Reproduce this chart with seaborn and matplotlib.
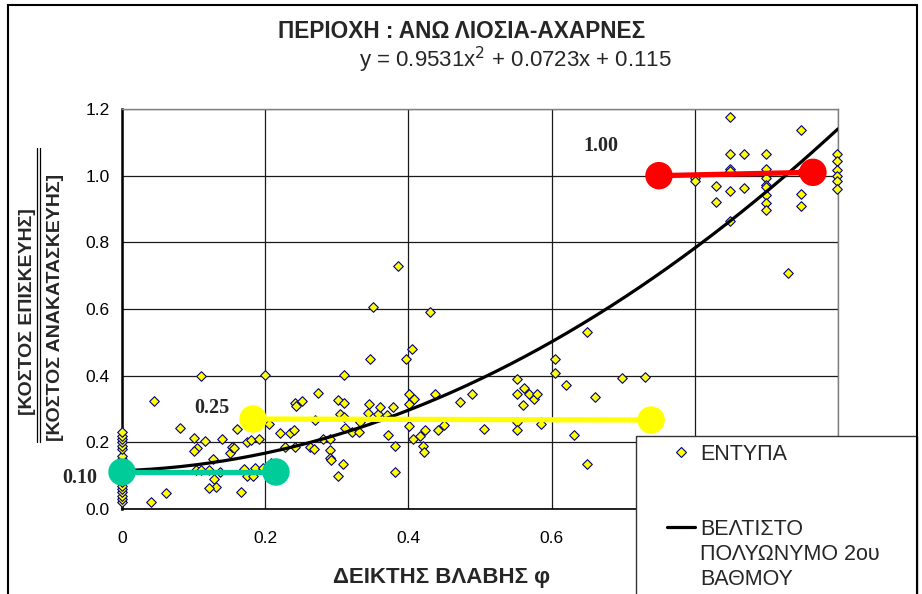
import numpy as np
import matplotlib
matplotlib.use('Agg')
import matplotlib.pyplot as plt
import seaborn as sns
from matplotlib.patches import Rectangle
from matplotlib.lines import Line2D

# survey points ("ΕΝΤΥΠΑ"), damage index vs cost ratio
zero_y = [0.02, 0.03, 0.04, 0.05, 0.06, 0.07, 0.08, 0.09, 0.10, 0.11, 0.12,
          0.13, 0.14, 0.15, 0.16, 0.18, 0.19, 0.20, 0.21, 0.22, 0.23]

pts_x = [0.041, 0.045, 0.061, 0.081, 0.101, 0.116, 0.105, 0.100, 0.111, 0.127,
         0.103, 0.111, 0.121, 0.128, 0.131, 0.121, 0.137, 0.139,
         0.151, 0.153, 0.157, 0.160, 0.166, 0.170, 0.175, 0.175, 0.180, 0.183,
         0.186, 0.191, 0.197, 0.200, 0.205, 0.208, 0.220, 0.227, 0.234, 0.240,
         0.241, 0.241, 0.243, 0.251, 0.262, 0.268, 0.270, 0.274,
         0.281, 0.290, 0.290, 0.290, 0.292, 0.301, 0.302, 0.305, 0.309, 0.310,
         0.310, 0.310, 0.312, 0.321, 0.331, 0.332, 0.343, 0.345, 0.347, 0.351,
         0.358, 0.360, 0.370, 0.371, 0.378, 0.381, 0.381, 0.385, 0.396, 0.401,
         0.401, 0.401, 0.405, 0.407, 0.408, 0.416, 0.421, 0.422, 0.423, 0.430,
         0.437, 0.441, 0.450,
         0.472, 0.489, 0.506, 0.551, 0.551, 0.551, 0.551, 0.560, 0.562, 0.568,
         0.575, 0.580, 0.585, 0.605, 0.605, 0.620, 0.631, 0.650, 0.650, 0.660,
         0.699, 0.730,
         0.800, 0.800, 0.830, 0.830, 0.849, 0.849, 0.849, 0.849, 0.849, 0.849,
         0.869, 0.869, 0.899, 0.899, 0.899, 0.899, 0.899, 0.899, 0.899, 0.899,
         0.930, 0.949, 0.949, 0.949, 0.949, 0.998, 0.998, 0.998, 0.998, 0.998,
         0.998]

pts_y = [0.022, 0.325, 0.049, 0.242, 0.214, 0.205, 0.184, 0.175, 0.400, 0.149,
         0.117, 0.117, 0.117, 0.089, 0.067, 0.062, 0.112, 0.211,
         0.169, 0.185, 0.182, 0.239, 0.050, 0.119, 0.099, 0.202, 0.207, 0.099,
         0.122, 0.209, 0.122, 0.403, 0.255, 0.137, 0.229, 0.187, 0.227, 0.237,
         0.185, 0.317, 0.310, 0.325, 0.187, 0.179, 0.267, 0.348,
         0.210, 0.210, 0.177, 0.152, 0.147, 0.327, 0.099, 0.285, 0.136, 0.403,
         0.317, 0.277, 0.244, 0.232, 0.230, 0.261, 0.287, 0.315, 0.451, 0.605,
         0.285, 0.305, 0.281, 0.221, 0.305, 0.189, 0.112, 0.728, 0.451, 0.345,
         0.316, 0.250, 0.480, 0.210, 0.330, 0.220, 0.189, 0.172, 0.236, 0.590,
         0.346, 0.236, 0.252,
         0.320, 0.346, 0.241, 0.390, 0.344, 0.262, 0.237, 0.313, 0.364, 0.346,
         0.329, 0.346, 0.255, 0.451, 0.408, 0.371, 0.221, 0.530, 0.135, 0.335,
         0.393, 0.396,
         0.993, 0.985, 0.968, 0.920, 1.176, 1.065, 1.020, 1.013, 0.953, 0.863,
         1.065, 0.963, 1.066, 1.020, 0.992, 0.973, 0.966, 0.941, 0.918, 0.898,
         0.708, 1.138, 0.946, 0.910, 1.010, 1.065, 1.043, 1.018, 1.000, 0.985,
         0.960]

# trendline coefficients, as printed on the chart
fit_coef = [0.9531, 0.0723, 0.115]

# damage levels
level_names = ['0.10', '0.25', '1.00']
level_x0 = [0.0, 0.183, 0.750]
level_x1 = [0.215, 0.739, 0.965]
level_y0 = [0.111, 0.270, 1.000]
level_y1 = [0.111, 0.267, 1.010]
level_colors = ['#00CC99', '#FFFF00', '#FF0000']

# x tick labels; the last two sit under the legend box in the original
x_ticks = [0, 0.2, 0.4, 0.6, 0.8, 1.0]
x_tick_labels = ['0', '0.2', '0.4', '0.6', '', '']

sns.set_style('white')
plt.rcParams['font.family'] = ['Liberation Sans', 'DejaVu Sans']
plt.rcParams['axes.unicode_minus'] = False

W, H = 922, 594
fig = plt.figure(figsize=(W / 100, H / 100), dpi=100)
ax = fig.add_axes([122 / W, 1 - 509 / H, 716 / W, 400 / H])

all_x = [0.0] * len(zero_y) + pts_x
all_y = zero_y + pts_y
sns.scatterplot(x=all_x, y=all_y, marker='D', s=24, color='#FFFF00',
                edgecolor='#000080', linewidth=0.8, zorder=3, clip_on=False,
                ax=ax)

fit_x = np.linspace(0, 1, 200)
fit_y = np.polyval(fit_coef, fit_x)
sns.lineplot(x=fit_x, y=fit_y, color='black', lw=2.3, zorder=4, ax=ax)

for i in range(len(level_names)):
    ax.plot([level_x0[i], level_x1[i]], [level_y0[i], level_y1[i]],
            color=level_colors[i], lw=3.8, zorder=5, solid_capstyle='butt')
    sns.scatterplot(x=[level_x0[i], level_x1[i]], y=[level_y0[i], level_y1[i]],
                    s=390, color=level_colors[i], edgecolor='none', zorder=6,
                    clip_on=False, ax=ax)

lbl_font = dict(family=['Liberation Serif', 'DejaVu Serif'], fontweight='bold',
                fontsize=14.5)
ax.text(0.669, 1.09, '1.00', ha='center', va='center', **lbl_font)
ax.text(0.126, 0.303, '0.25', ha='center', va='center', **lbl_font)
ax.text(-0.059, 0.093, '0.10', ha='center', va='center', **lbl_font)

ax.set_xlim(0, 1)
ax.set_ylim(0, 1.2)
ax.set_xticks(x_ticks)
ax.set_xticklabels(x_tick_labels)
ax.set_yticks(np.arange(0, 1.21, 0.2))
ax.set_yticklabels([f'{v:.1f}' for v in np.arange(0, 1.21, 0.2)])
ax.tick_params(axis='both', direction='out', length=5, width=1, color='black',
               labelsize=12.5, colors='black')
ax.tick_params(axis='x', pad=11)
ax.tick_params(axis='y', pad=4)
ax.grid(True, color='#1a1a1a', lw=0.9)
ax.set_axisbelow(True)
ax.set_xlabel('')
ax.set_ylabel('')
for side in ['top', 'right']:
    ax.spines[side].set_color('#808080')
    ax.spines[side].set_linewidth(1.0)
ax.spines['left'].set_color('black')
ax.spines['left'].set_linewidth(1.8)
ax.spines['bottom'].set_color('black')
ax.spines['bottom'].set_linewidth(1.2)

# titles
fig.text(462 / W, 1 - 31 / H, 'ΠΕΡΙΟΧΗ : ΑΝΩ ΛΙΟΣΙΑ-ΑΧΑΡΝΕΣ', ha='center',
         va='center', fontsize=16.3, fontweight='bold')
fig.text(515 / W, 1 - 60 / H, 'y = 0.9531x$^2$ + 0.0723x + 0.115', ha='center',
         va='center', fontsize=16)
fig.text(442 / W, 1 - 577 / H, 'ΔΕΙΚΤΗΣ ΒΛΑΒΗΣ φ', ha='center', va='center',
         fontsize=16, fontweight='bold')
fig.text(28 / W, 1 - 312 / H, '[ΚΟΣΤΟΣ ΕΠΙΣΚΕΥΗΣ]', ha='center', va='center',
         rotation=90, fontsize=14, fontweight='bold')
fig.text(56 / W, 1 - 307 / H, '[ΚΟΣΤΟΣ ΑΝΑΚΑΤΑΣΚΕΥΗΣ]', ha='center',
         va='center', rotation=90, fontsize=14, fontweight='bold')
for xp in [36.5, 39.5]:
    fig.add_artist(Line2D([xp / W, xp / W], [1 - 442 / H, 1 - 148 / H],
                          color='black', lw=0.9))

# legend box (runs off the bottom of the picture)
fig.add_artist(Rectangle((636 / W, -0.05), (917 - 636) / W, (594 - 436) / H + 0.05,
                         facecolor='white', edgecolor='#333333', lw=1.0,
                         zorder=10))
fig.add_artist(Line2D([681 / W], [1 - 452 / H], marker='D', markersize=5,
                      markerfacecolor='#FFFF00', markeredgecolor='#000080',
                      markeredgewidth=0.8, linestyle='none', zorder=11))
fig.text(700 / W, 1 - 460 / H, 'ΕΝΤΥΠΑ', ha='left', va='baseline',
         fontsize=15.5, zorder=11)
fig.add_artist(Line2D([667 / W, 695 / W], [1 - 527 / H, 1 - 527 / H],
                      color='black', lw=2.3, zorder=11))
for j, line in enumerate(['ΒΕΛΤΙΣΤΟ', 'ΠΟΛΥΩΝΥΜΟ 2ου', 'ΒΑΘΜΟΥ']):
    fig.text(700 / W, 1 - (535 + 25 * j) / H, line, ha='left', va='baseline',
             fontsize=15.5, zorder=11)

# outer chart frame
fig.add_artist(Rectangle((8 / W, -0.05), (917 - 8) / W, (594 - 5) / H + 0.05,
                         facecolor='none', edgecolor='black', lw=1.5, zorder=12))

fig.savefig('out.png', dpi=100)
